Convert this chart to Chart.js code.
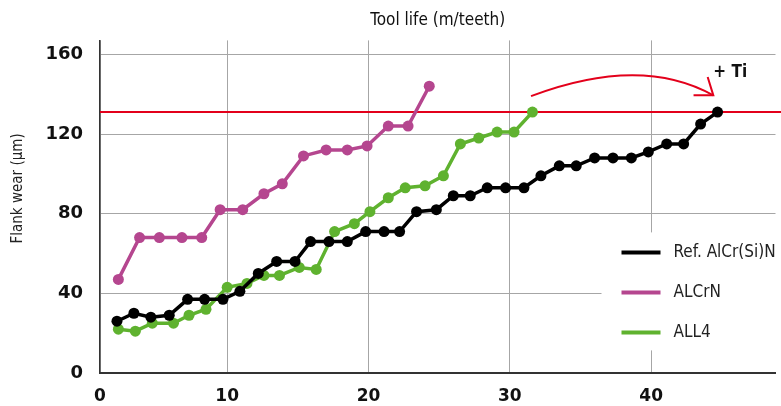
<!DOCTYPE html>
<html>
<head>
    <title>Flank wear vs tool life</title>
    <script src="https://cdn.jsdelivr.net/npm/chart.js"></script>
    <style>
        body { margin: 0; background: #fff; }
        #wrap { width: 781px; height: 406px; }
    </style>
</head>
<body>
    <div id="wrap"><canvas id="wearChart"></canvas></div>

    <script>
        // values
        const refX = [2.2, 3.4, 4.6, 5.9, 7.2, 8.4, 9.7, 10.9, 12.2, 13.5, 14.8, 15.9, 17.2, 18.5, 19.8, 21.1, 22.2, 23.4,
                      24.8, 26.0, 27.2, 28.4, 29.7, 31.0, 32.2, 33.5, 34.7, 36.0, 37.3, 38.6, 39.8, 41.1, 42.3, 43.5, 44.7];
        const refY = [26, 30, 28, 29, 37, 37, 37, 41, 50, 56, 56, 66, 66, 66, 71, 71, 71, 81,
                      82, 89, 89, 93, 93, 93, 99, 104, 104, 108, 108, 108, 111, 115, 115, 125, 131];
        const alcrnX = [2.3, 3.8, 5.2, 6.8, 8.2, 9.5, 11.1, 12.6, 13.9, 15.4, 17.0, 18.5, 19.9, 21.4, 22.8, 24.3];
        const alcrnY = [47, 68, 68, 68, 68, 82, 82, 90, 95, 109, 112, 112, 114, 124, 124, 144];
        const all4X = [2.3, 3.5, 4.7, 6.2, 7.3, 8.5, 10.0, 11.4, 12.6, 13.7, 15.1, 16.3, 17.6, 19.0, 20.1, 21.4,
                       22.6, 24.0, 25.3, 26.5, 27.8, 29.1, 30.3, 31.6];
        const all4Y = [22, 21, 25, 25, 29, 32, 43, 45, 49, 49, 53, 52, 71, 75, 81, 88,
                       93, 94, 99, 115, 118, 121, 121, 131];
        const seriesNames = ['Ref. AlCr(Si)N', 'ALCrN', 'ALL4'];
        const xTicks = [1, 10, 20, 30, 40];
        const yTicks = [0, 40, 80, 120, 160];
        const yTitle = 'Flank wear (µm)';
        const limitWear = 131;
        // arrow from the ALL4 end point to the Ref end point (data units)
        const arrowStart = [31.5, 139];
        const arrowPeak = [38.6, 149.5];
        const arrowEnd = [44.4, 139.4];
        const arrowWingA = [43.0, 139.4];
        const arrowWingB = [44.0, 148.6];
        const noteText = '+ Ti';
        const notePos = [45.6, 151];

        const RED = '#e3001b';
        const textFont = "'Liberation Sans Narrow', 'DejaVu Sans Condensed', 'Roboto Condensed', 'Roboto', sans-serif";
        const tickFont = "'DejaVu Sans', sans-serif";

        const toPts = (xs, ys) => xs.map((x, i) => ({ x: x, y: ys[i] }));

        function lineSet(label, xs, ys, color) {
            return {
                label: label,
                data: toPts(xs, ys),
                borderColor: color,
                backgroundColor: color,
                borderWidth: 3.5,
                pointRadius: 5.5,
                pointBorderWidth: 0,
                pointBackgroundColor: color,
                tension: 0
            };
        }

        // red limit line + curved arrow + "+ Ti"
        const limitPlugin = {
            id: 'limit',
            beforeDatasetsDraw(chart) {
                const { ctx, chartArea, scales: { y } } = chart;
                const yy = y.getPixelForValue(limitWear);
                ctx.save();
                ctx.strokeStyle = RED;
                ctx.lineWidth = 2;
                ctx.beginPath();
                ctx.moveTo(chartArea.left, yy);
                ctx.lineTo(chart.width, yy);
                ctx.stroke();
                ctx.restore();
            },
            afterDatasetsDraw(chart) {
                const { ctx, scales: { x, y } } = chart;
                const px = p => [x.getPixelForValue(p[0]), y.getPixelForValue(p[1])];
                const s = px(arrowStart), m = px(arrowPeak), e = px(arrowEnd);
                const cx = 2 * m[0] - (s[0] + e[0]) / 2;
                const cy = 2 * m[1] - (s[1] + e[1]) / 2;
                ctx.save();
                ctx.strokeStyle = RED;
                ctx.lineWidth = 2;
                ctx.beginPath();
                ctx.moveTo(s[0], s[1]);
                ctx.quadraticCurveTo(cx, cy, e[0], e[1]);
                ctx.stroke();
                const a = px(arrowWingA), b = px(arrowWingB);
                ctx.beginPath();
                ctx.moveTo(a[0], a[1]);
                ctx.lineTo(e[0], e[1]);
                ctx.lineTo(b[0], b[1]);
                ctx.stroke();
                const t = px(notePos);
                ctx.fillStyle = '#111';
                ctx.font = "bold 17px " + textFont;
                ctx.textAlign = 'center';
                ctx.textBaseline = 'middle';
                ctx.fillText(noteText, t[0], t[1]);
                ctx.restore();
            }
        };

        // legend sits inside the plot on a white box; y title drawn a bit above centre
        const innerLegend = {
            id: 'innerLegend',
            afterDatasetsDraw(chart) {
                const { ctx, chartArea } = chart;
                const boxLeft = chartArea.right - 174;
                const boxTop = chartArea.top + 192;
                ctx.save();
                ctx.fillStyle = '#fff';
                ctx.fillRect(boxLeft, boxTop, chart.width - boxLeft, 118);
                chart.data.datasets.forEach((ds, i) => {
                    const yy = boxTop + 20 + i * 40;
                    ctx.strokeStyle = ds.borderColor;
                    ctx.lineWidth = 4;
                    ctx.beginPath();
                    ctx.moveTo(boxLeft + 20, yy);
                    ctx.lineTo(boxLeft + 59, yy);
                    ctx.stroke();
                    ctx.fillStyle = '#222';
                    ctx.font = '17px ' + textFont;
                    ctx.textAlign = 'left';
                    ctx.textBaseline = 'middle';
                    ctx.fillText(ds.label, boxLeft + 72, yy);
                });
                ctx.translate(18, chartArea.top + 148);
                ctx.rotate(-Math.PI / 2);
                ctx.fillStyle = '#222';
                ctx.font = '15px ' + textFont;
                ctx.textAlign = 'center';
                ctx.textBaseline = 'middle';
                ctx.fillText(yTitle, 0, 0);
                ctx.restore();
            }
        };

        const ctx = document.getElementById('wearChart').getContext('2d');
        const chart = new Chart(ctx, {
            type: 'line',
            data: {
                datasets: [
                    lineSet(seriesNames[0], refX, refY, '#000000'),
                    lineSet(seriesNames[1], alcrnX, alcrnY, '#b5468f'),
                    lineSet(seriesNames[2], all4X, all4Y, '#5fb22f')
                ]
            },
            options: {
                animation: false,
                responsive: true,
                maintainAspectRatio: false,
                layout: { padding: { left: 0, right: 4, top: 0, bottom: 0 } },
                plugins: {
                    legend: { display: false },
                    tooltip: { enabled: false },
                    title: {
                        display: true,
                        text: 'Tool life (m/teeth)',
                        fullSize: false,
                        color: '#111',
                        font: { family: textFont, size: 17, weight: 'normal', lineHeight: 1.2 },
                        padding: { top: 10, bottom: 10 }
                    }
                },
                scales: {
                    x: {
                        type: 'linear',
                        min: 1,
                        max: 48.8,
                        afterBuildTicks: s => { s.ticks = xTicks.map(v => ({ value: v })); },
                        afterFit: s => { s.height = 33; },
                        grid: { color: '#a6a6a6', lineWidth: 1, drawTicks: false },
                        border: { color: '#333', width: 2 },
                        ticks: {
                            padding: 13,
                            color: '#111',
                            font: { family: tickFont, size: 17, weight: 'bold' },
                            callback: v => (v === 1 ? '0' : v)
                        }
                    },
                    y: {
                        min: 0,
                        max: 167,
                        afterBuildTicks: s => { s.ticks = yTicks.map(v => ({ value: v })); },
                        afterFit: s => { s.width = 100; },
                        grid: { color: '#a6a6a6', lineWidth: 1, drawTicks: false },
                        border: { color: '#333', width: 1.5 },
                        ticks: {
                            padding: 17,
                            color: '#111',
                            font: { family: tickFont, size: 18, weight: 'bold' }
                        }
                    }
                }
            },
            plugins: [limitPlugin, innerLegend]
        });
    </script>
</body>
</html>
